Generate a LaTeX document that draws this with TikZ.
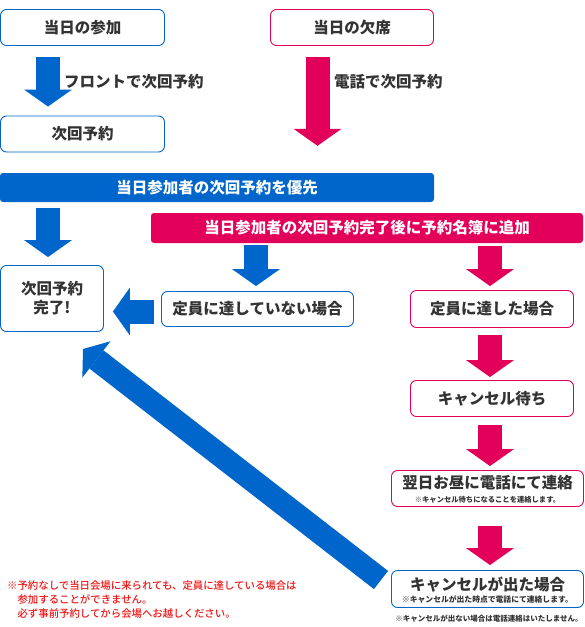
\documentclass[tikz,border=0pt]{standalone}
\usepackage{fontspec}
\setmainfont{Noto Sans CJK JP}[BoldFont={Noto Sans CJK JP Black}]
\newfontfamily\notefont{Noto Sans CJK JP Medium}
\usetikzlibrary{arrows.meta}
\definecolor{cblue}{HTML}{0066CC}
\definecolor{cpink}{HTML}{E3005B}
\definecolor{ctext}{HTML}{333333}
\definecolor{cred}{HTML}{F01414}
\newcommand\mybigfont{\fontsize{15.5}{19}\selectfont\bfseries}
\newcommand\mysmallfont[1]{\fontsize{#1}{#1}\selectfont\bfseries}
\begin{document}
\begin{tikzpicture}[x=1pt,y=-1pt,
  basebox/.style={line width=0.9pt, rounded corners=6pt, fill=white, inner sep=0pt, text=ctext, font=\mybigfont},
  bluebox/.style={basebox, draw=cblue},
  pinkbox/.style={basebox, draw=cpink},
  barbox/.style={rounded corners=3pt, inner sep=0pt, text=white, font=\mybigfont},
  lbl/.style={inner sep=0pt, text=ctext, font=\mybigfont},
  blk/.style={line width=24pt, -{Triangle[length=17pt,width=48pt,line width=0pt]}},
  note/.style={inner sep=0pt, text=cred, font=\notefont\fontsize{10.4}{14}\selectfont, anchor=base west}
]
\useasboundingbox (0,0) rectangle (585,627);

% boxes
\node[bluebox, minimum width=164pt, minimum height=36pt] (A) at (82.5,27.5) {当日の参加};
\node[pinkbox, minimum width=163pt, minimum height=36pt] (B) at (352,27.5) {当日の欠席};
\node[bluebox, minimum width=164pt, minimum height=36pt] (C) at (82.5,134) {次回予約};
\node[barbox, fill=cblue, minimum width=434pt, minimum height=29pt] (D) at (217,187.5) {当日参加者の次回予約を優先};
\node[barbox, fill=cpink, minimum width=432pt, minimum height=30pt] (E) at (367,228) {当日参加者の次回予約完了後に予約名簿に追加};
\node[bluebox, minimum width=103pt, minimum height=66pt, align=center] (F) at (52,298.5) {次回予約\\完了!};
\node[bluebox, minimum width=192pt, minimum height=35pt] (G) at (257.5,309) {定員に達していない場合};
\node[pinkbox, minimum width=163pt, minimum height=37pt] (H) at (492,309) {定員に達した場合};
\node[pinkbox, minimum width=163pt, minimum height=36pt] (I) at (492,398.5) {キャンセル待ち};
\node[pinkbox, minimum width=192pt, minimum height=36pt] (J) at (487.5,488.5) {};
\node[bluebox, minimum width=192pt, minimum height=37pt] (K) at (487.5,589) {};

% texts inside J and K
\node[lbl] (Jt) at (487.5,483) {翌日お昼に電話にて連絡};
\node[lbl, font=\mysmallfont{7.3}] (Js) at (487.5,500) {※キャンセル待ちになることを連絡します。};
\node[lbl] (Kt) at (487.5,584.5) {キャンセルが出た場合};
\node[lbl, font=\mysmallfont{7.8}] (Ks) at (487.5,600) {※キャンセルが出た時点で電話にて連絡します。};
\node[lbl, font=\mysmallfont{7.5}] (Kn) at (489,619) {※キャンセルが出ない場合は電話連絡はいたしません。};

% labels
\node[lbl, anchor=west] (L1) at (64,82) {フロントで次回予約};
\node[lbl, anchor=west] (L2) at (334,82) {電話で次回予約};

% red note
\node[note] (N1) at (7,589) {※予約なしで当日会場に来られても、定員に達している場合は};
\node[note] (N2) at (7,603) {　参加することができません。};
\node[note] (N3) at (7,617) {　必ず事前予約してから会場へお越しください。};

% helper coordinates
\coordinate (xa) at (48,0);
\coordinate (xb) at (317.5,0);
\coordinate (xc) at (256,0);
\coordinate (xd) at (490,0);
\coordinate (yl) at (0,311.5);
\coordinate (bigstart) at (381,580);
\coordinate (bigend) at (83,349);

% block arrows
\draw[blk, cblue, shorten <=11pt, shorten >=9pt] (A.south -| xa) -- (C.north -| xa);
\draw[blk, cpink, shorten <=11pt, shorten >=27pt] (B.south -| xb) -- (D.north -| xb);
\draw[blk, cblue, shorten <=6pt, shorten >=8pt] (D.south -| xa) -- (F.north -| xa);
\draw[blk, cblue, shorten <=2pt, shorten >=5pt] (E.south -| xc) -- (G.north -| xc);
\draw[blk, cblue, shorten <=7pt, shorten >=9pt] (G.west |- yl) -- (F.east |- yl);
\draw[blk, cpink, shorten <=3pt, shorten >=4pt] (E.south -| xd) -- (H.north -| xd);
\draw[blk, cpink, shorten <=7pt, shorten >=3pt] (H.south -| xd) -- (I.north -| xd);
\draw[blk, cpink, shorten <=8pt, shorten >=4pt] (I.south -| xd) -- (J.north -| xd);
\draw[blk, cpink, shorten <=19pt, shorten >=5pt] (J.south -| xd) -- (K.north -| xd);
\draw[cblue, line width=23pt, -{Triangle[length=17pt,width=46pt,line width=0pt]}] (bigstart) -- (bigend);
\end{tikzpicture}
\end{document}
